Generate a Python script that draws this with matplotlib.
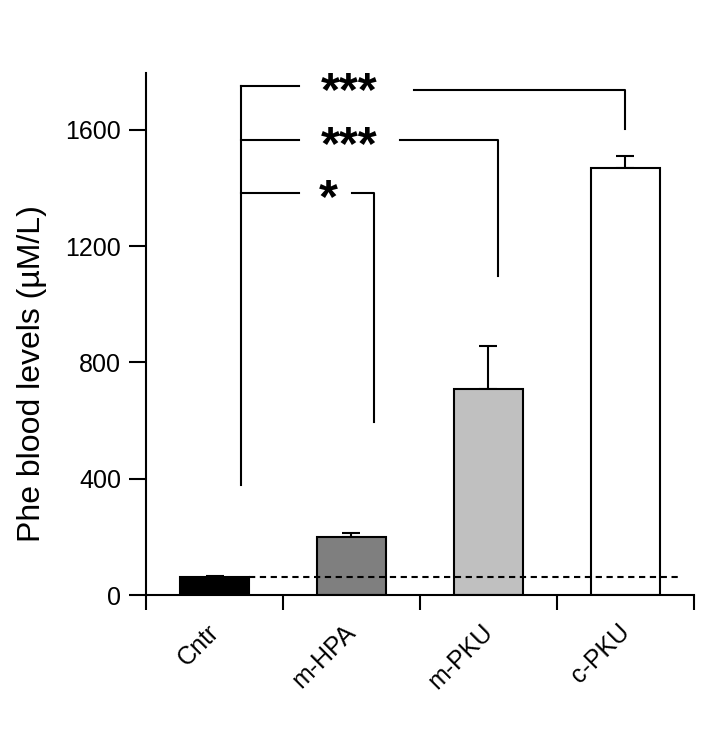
import numpy as np
import matplotlib.pyplot as plt

plt.rcParams['font.family'] = ['Liberation Sans', 'DejaVu Sans']

# data
groups = ['Cntr', 'm-HPA', 'm-PKU', 'c-PKU']
means = [62, 200, 710, 1470]
sem = [5, 13, 145, 42]
colors = ['black', '#7f7f7f', '#c0c0c0', 'white']
ref_level = 62  # control mean, dashed line

# significance brackets
sig_labels = ['***', '***', '*']
sig_left_y = [1752, 1566, 1383]
sig_right_y = [1737, 1566, 1383]
sig_right_x = [3.5, 2.57, 1.665]
sig_right_bottom = [1604, 1098, 595]
sig_text_x = [1.48, 1.48, 1.33]
sig_gap_end = [1.955, 1.855, 1.505]
bracket_x = 0.69
bracket_bottom = 378
bracket_gap_start = 1.12

fig = plt.figure(figsize=(7.2, 7.53), dpi=100)
ax = fig.add_axes([0.2028, 0.2098, 0.761, 0.6933])

x = np.arange(len(groups)) + 0.5
ax.bar(x, means, width=0.5, color=colors, edgecolor='black', linewidth=1.5, zorder=2)
ax.errorbar(x, means, yerr=[np.zeros(len(sem)), sem], fmt='none', ecolor='black',
            elinewidth=1.5, capsize=6.5, capthick=1.5, zorder=1)

# dashed reference line at control level
ax.plot([0.75, 3.89], [ref_level, ref_level], ls=(0, (3, 2.2)), color='black', lw=1.5, zorder=3)

# brackets
ax.plot([bracket_x, bracket_x], [bracket_bottom, sig_left_y[0]], color='black', lw=1.5, clip_on=False)
for lab, ly, ry, rx, rb, tx, ge in zip(sig_labels, sig_left_y, sig_right_y, sig_right_x,
                                       sig_right_bottom, sig_text_x, sig_gap_end):
    ax.plot([bracket_x, bracket_gap_start], [ly, ly], color='black', lw=1.5, clip_on=False)
    ax.plot([ge, rx, rx], [ry, ry, rb], color='black', lw=1.5, clip_on=False)
    ax.annotate(lab, (tx, ly), xytext=(0, -14), textcoords='offset points',
                ha='center', va='baseline', fontsize=35, fontweight='bold')

ax.set_xlim(0, 4)
ax.set_ylim(0, 1796)
ax.set_yticks([0, 400, 800, 1200, 1600])
ax.set_xticks([0, 1, 2, 3, 4])
ax.set_xticklabels([])
# group names, rotated, under each bar
for xi, g in zip(x, groups):
    ax.annotate(g, (xi, 0), xycoords=('data', 'axes fraction'), xytext=(-5.8, -18),
                textcoords='offset points', ha='right', va='top', rotation=45,
                rotation_mode='anchor', fontsize=18)
ax.tick_params(axis='x', length=11, width=1.5, direction='out')
ax.tick_params(axis='y', length=12, width=1.5, labelsize=18, pad=6)
ax.set_ylabel('Phe blood levels (µM/L)', fontsize=23)
ax.yaxis.set_label_coords(-0.18, 0.425)

for s in ['top', 'right']:
    ax.spines[s].set_visible(False)
for s in ['left', 'bottom']:
    ax.spines[s].set_linewidth(1.5)

plt.savefig('out.png', dpi=100)
